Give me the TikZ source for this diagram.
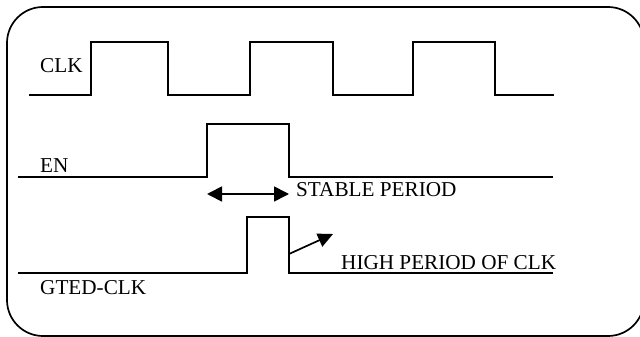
\documentclass[tikz,border=0pt]{standalone}
\usepackage{fontspec}
\setmainfont{Liberation Serif}
\usetikzlibrary{arrows.meta}
\tikzset{
  wave/.style={line width=1.7pt, line join=miter},
  frame/.style={line width=1.7pt, rounded corners=36pt},
  lbl/.style={anchor=base west, inner sep=0pt, font=\fontsize{21.2}{25}\selectfont},
  bigtip/.style={line width=1.7pt, {Triangle[length=15pt,width=15pt]}-{Triangle[length=15pt,width=15pt]}},
  onetip/.style={line width=1.7pt, -{Triangle[length=15pt,width=14pt]}}
}
\begin{document}
\begin{tikzpicture}[x=1pt,y=-1pt]
\useasboundingbox (0,0) rectangle (640,337);
\clip (0,0) rectangle (640,337);
\draw[frame] (7,7) rectangle (644,336);
% CLK
\draw[wave] (29,95) -- (91,95) -- (91,42) -- (168,42) -- (168,95) -- (250,95) -- (250,42) -- (333,42) -- (333,95) -- (413,95) -- (413,42) -- (495,42) -- (495,95) -- (554,95);
\node[lbl] (clk) at (40,73) {CLK};
% EN
\draw[wave] (18,177) -- (207,177) -- (207,124) -- (289,124) -- (289,177) -- (553,177);
\node[lbl] (en) at (40,172) {EN};
% stable period arrow
\coordinate (sa) at (207,194);
\coordinate (sb) at (289,194);
\draw[bigtip] (sa) -- (sb);
\node[lbl] (stable) at (296,196) {STABLE PERIOD};
% GTED-CLK
\draw[wave] (18,273) -- (247,273) -- (247,217) -- (289,217) -- (289,273) -- (553,273);
\node[lbl] (gted) at (40,294) {GTED-CLK};
% high period arrow
\coordinate (ha) at (289,254);
\coordinate (hb) at (333,234);
\draw[onetip] (ha) -- (hb);
\node[lbl] (high) at (341,269) {HIGH PERIOD OF CLK};
\end{tikzpicture}
\end{document}
